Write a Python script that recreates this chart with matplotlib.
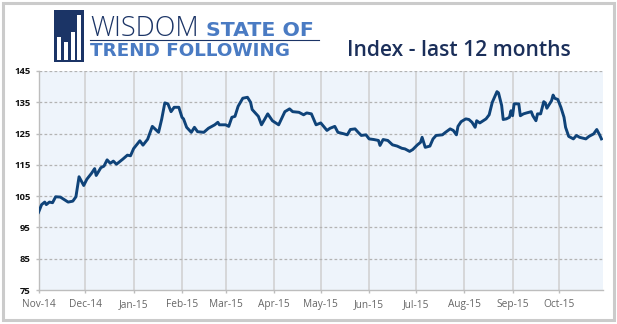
import pandas as pd
import matplotlib
matplotlib.use('Agg')
import matplotlib.pyplot as plt
import matplotlib.dates as mdates
from matplotlib.patches import Rectangle

# values (index level, roughly every 2-3 days)
dates = [
    '2014-11-01', '2014-11-03', '2014-11-05', '2014-11-06', '2014-11-08', '2014-11-10',
    '2014-11-12', '2014-11-15', '2014-11-20', '2014-11-23', '2014-11-25', '2014-11-27',
    '2014-11-30', '2014-12-02', '2014-12-05', '2014-12-07', '2014-12-08', '2014-12-11',
    '2014-12-13', '2014-12-15', '2014-12-17', '2014-12-19', '2014-12-21', '2014-12-25',
    '2014-12-28', '2014-12-30', '2015-01-01', '2015-01-05', '2015-01-07', '2015-01-10',
    '2015-01-13', '2015-01-17', '2015-01-19', '2015-01-21', '2015-01-23', '2015-01-25',
    '2015-01-27', '2015-01-30', '2015-02-01', '2015-02-02', '2015-02-04', '2015-02-07',
    '2015-02-09', '2015-02-11', '2015-02-15', '2015-02-18', '2015-02-22', '2015-02-24',
    '2015-02-25', '2015-03-01', '2015-03-03', '2015-03-05', '2015-03-07', '2015-03-09',
    '2015-03-12', '2015-03-15', '2015-03-17', '2015-03-18', '2015-03-22', '2015-03-24',
    '2015-03-28', '2015-03-31', '2015-04-04', '2015-04-08', '2015-04-11', '2015-04-13',
    '2015-04-17', '2015-04-20', '2015-04-22', '2015-04-25', '2015-04-28', '2015-05-01',
    '2015-05-05', '2015-05-07', '2015-05-10', '2015-05-12', '2015-05-16', '2015-05-18',
    '2015-05-20', '2015-05-23', '2015-05-25', '2015-05-27', '2015-05-30', '2015-06-01',
    '2015-06-04', '2015-06-07', '2015-06-08', '2015-06-10', '2015-06-13', '2015-06-16',
    '2015-06-19', '2015-06-22', '2015-06-24', '2015-06-27', '2015-06-29', '2015-07-02',
    '2015-07-04', '2015-07-05', '2015-07-07', '2015-07-10', '2015-07-12', '2015-07-14',
    '2015-07-18', '2015-07-20', '2015-07-23', '2015-07-25', '2015-07-27', '2015-07-28',
    '2015-07-30', '2015-08-02', '2015-08-04', '2015-08-06', '2015-08-08', '2015-08-09',
    '2015-08-11', '2015-08-15', '2015-08-17', '2015-08-19', '2015-08-22', '2015-08-23',
    '2015-08-25', '2015-08-26', '2015-08-28', '2015-08-30', '2015-08-31', '2015-09-01',
    '2015-09-02', '2015-09-05', '2015-09-06', '2015-09-08', '2015-09-10', '2015-09-13',
    '2015-09-14', '2015-09-16', '2015-09-17', '2015-09-19', '2015-09-21', '2015-09-22',
    '2015-09-23', '2015-09-26', '2015-09-27', '2015-09-28', '2015-09-30', '2015-10-02',
    '2015-10-04', '2015-10-05', '2015-10-07', '2015-10-10', '2015-10-12', '2015-10-14',
    '2015-10-18', '2015-10-20', '2015-10-23', '2015-10-25', '2015-10-27', '2015-10-28',
]
index_values = [
    99.8, 102.3, 103.1, 102.3, 103.1, 102.9,
    104.8, 104.7, 103.1, 103.4, 104.8, 111.2,
    108.4, 110.4, 112.3, 113.8, 111.6, 114.1,
    114.6, 116.6, 115.5, 116.2, 115.2, 116.8,
    118.1, 117.9, 120.2, 122.7, 121.3, 123.2,
    127.3, 125.4, 129.6, 134.8, 134.5, 132.0,
    133.4, 133.4, 130.2, 129.7, 127.0, 125.4,
    127.0, 125.6, 125.4, 126.7, 127.8, 128.6,
    127.8, 127.8, 127.3, 130.2, 130.5, 133.7,
    136.3, 136.6, 135.0, 132.7, 130.5, 127.8,
    131.3, 129.1, 127.8, 132.0, 132.9, 132.0,
    131.8, 131.0, 131.6, 131.3, 127.8, 128.4,
    126.0, 126.7, 127.3, 125.4, 124.9, 124.6,
    126.3, 126.5, 125.4, 124.4, 124.6, 123.3,
    123.1, 122.8, 121.2, 123.1, 122.8, 121.4,
    121.0, 120.3, 120.1, 119.3, 119.9, 121.4,
    122.2, 123.8, 120.6, 121.0, 123.3, 124.4,
    124.6, 125.4, 126.5, 126.0, 124.6, 127.3,
    128.8, 129.7, 129.5, 128.6, 127.0, 129.1,
    128.4, 129.7, 131.0, 135.0, 138.4, 138.0,
    134.0, 129.5, 129.7, 130.2, 132.3, 130.7,
    134.5, 134.5, 130.7, 131.3, 131.6, 132.0,
    130.7, 129.1, 131.3, 131.3, 135.2, 134.8,
    133.1, 135.5, 137.3, 136.3, 135.9, 133.4,
    130.2, 127.0, 124.1, 123.3, 124.4, 123.8,
    123.3, 124.1, 124.9, 126.3, 124.4, 123.3,
]
y_ticks = [75, 85, 95, 105, 115, 125, 135, 145]

df = pd.DataFrame({'date': pd.to_datetime(dates), 'value': index_values})

W, H = 617, 324
fig = plt.figure(figsize=(W / 100, H / 100), dpi=100, facecolor='white')
renderer = fig.canvas.get_renderer()


def px(x, y):
    # pixel position (from top-left) -> figure fraction
    return x / W, 1 - y / H


def fit_width(txt, target):
    # rescale font so the text spans `target` pixels
    w = txt.get_window_extent(renderer).width
    txt.set_fontsize(txt.get_fontsize() * target / w)


# grey outer frame
fig.patches.append(Rectangle(px(2.5, 320), (614 - 2.5) / W, (320 - 2.5) / H,
                             transform=fig.transFigure, fill=False,
                             edgecolor='#cbcbcb', linewidth=2.2))

# logo block: navy square with white bars
navy = '#1b3466'
blue = '#4a7bc3'
fig.patches.append(Rectangle(px(54, 62), 30 / W, 52 / H, transform=fig.transFigure,
                             facecolor=navy, edgecolor='none'))
for bx, top in [(57.3, 36.7), (64, 42), (70.7, 32), (77.3, 15)]:
    fig.patches.append(Rectangle(px(bx, 60), 4 / W, (60 - top) / H, transform=fig.transFigure,
                                 facecolor='white', edgecolor='none'))

t = fig.text(*px(90, 36.5), 'WISDOM', fontsize=17, family='Open Sans', fontweight=300,
             color=navy, va='baseline', ha='left')
fit_width(t, 108)
t = fig.text(*px(206, 36.5), 'STATE OF', fontsize=11, family='DejaVu Sans', fontweight='bold',
             color=blue, va='baseline', ha='left')
fit_width(t, 108)
fig.add_artist(plt.Line2D([90 / W, 319 / W], [1 - 39.5 / H, 1 - 39.5 / H],
                          transform=fig.transFigure, color=navy, linewidth=0.8))
t = fig.text(*px(90, 56.5), 'TREND FOLLOWING', fontsize=11, family='DejaVu Sans', fontweight='bold',
             color=blue, va='baseline', ha='left')
fit_width(t, 200)
t = fig.text(*px(347, 56), 'Index - last 12 months', fontsize=14.5, family='Open Sans',
             fontweight='semibold', color='#1b2f5a', va='baseline', ha='left')
fit_width(t, 224)

# main chart
left, right, top, bottom = 38.5, 603, 71, 290
ax = fig.add_axes([left / W, 1 - bottom / H, (right - left) / W, (bottom - top) / H])
ax.set_facecolor('#eef4fb')

ax.plot(df['date'], df['value'], color='#0f4379', linewidth=2.1, solid_joinstyle='round', zorder=3)

ax.set_ylim(75, 145)
ax.set_yticks(y_ticks)
ax.set_xlim(pd.Timestamp('2014-11-01'), pd.Timestamp('2015-10-29'))
ax.xaxis.set_major_locator(mdates.MonthLocator())
ax.xaxis.set_major_formatter(mdates.DateFormatter('%b-%y'))

for y in y_ticks[1:]:
    ax.axhline(y, color='#b3b3b3', linewidth=0.9, linestyle=(0, (2.2, 1.8)), zorder=1)
ax.grid(axis='x', color='#cfcfcf', linewidth=1.1, linestyle='-', zorder=0)
ax.set_axisbelow(True)

for side in ['top', 'right']:
    ax.spines[side].set_visible(False)
for side in ['left', 'bottom']:
    ax.spines[side].set_color('#bdbdbd')
    ax.spines[side].set_linewidth(1.0)

ax.tick_params(axis='y', length=2.5, width=1, color='#bdbdbd', pad=3,
               labelsize=6.8, labelcolor='#111111')
ax.tick_params(axis='x', length=2.5, width=1, color='#bdbdbd', pad=4,
               labelsize=7.3, labelcolor='#666666')
for lbl in ax.get_yticklabels():
    lbl.set_fontweight('bold')
    lbl.set_family('Open Sans')
for lbl in ax.get_xticklabels():
    lbl.set_family('Open Sans')

fig.savefig('out.png', dpi=100, facecolor='white')
